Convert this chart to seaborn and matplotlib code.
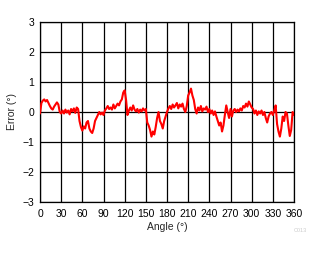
import numpy as np
import pandas as pd
import matplotlib
matplotlib.use("Agg")
import matplotlib.pyplot as plt
import seaborn as sns

# Angle samples (degrees) and measured error (degrees)
angle_deg = list(range(0, 361, 2))
error_deg = [
    -0.05, 0.30, 0.38, 0.42, 0.35, 0.40, 0.30, 0.20, 0.12, 0.08,
    0.18, 0.25, 0.32, 0.25, 0.00, -0.05, 0.05, -0.05, 0.08, -0.02,
    0.05, -0.08, 0.10, 0.02, 0.12, -0.03, 0.15, 0.10, -0.30, -0.50,
    -0.62, -0.48, -0.55, -0.35, -0.30, -0.55, -0.65, -0.70, -0.55, -0.30,
    -0.20, -0.10, 0.00, -0.08, -0.02, -0.10, 0.05, 0.12, 0.20, 0.10,
    0.15, 0.08, 0.25, 0.12, 0.20, 0.28, 0.22, 0.35, 0.42, 0.65,
    0.72, 0.40, -0.10, 0.05, 0.15, 0.05, 0.22, 0.08, 0.02, 0.10,
    -0.02, 0.08, 0.02, 0.12, 0.05, 0.10, -0.35, -0.45, -0.60, -0.82,
    -0.65, -0.75, -0.50, -0.20, 0.00, -0.30, -0.40, -0.55, -0.30, -0.15,
    0.00, 0.12, 0.20, 0.10, 0.25, 0.15, 0.22, 0.30, 0.12, 0.25,
    0.18, 0.28, 0.10, 0.00, 0.20, 0.55, 0.65, 0.78, 0.55, 0.40,
    0.10, -0.05, 0.15, 0.05, 0.20, 0.02, 0.12, 0.08, 0.18, 0.00,
    0.10, -0.05, 0.05, -0.10, 0.02, -0.15, -0.30, -0.45, -0.35, -0.65,
    -0.45, -0.10, 0.22, 0.00, -0.20, 0.10, -0.15, 0.05, 0.10, 0.00,
    0.08, 0.02, 0.12, 0.05, 0.20, 0.15, 0.28, 0.18, 0.35, 0.25,
    0.15, 0.10, -0.05, 0.05, -0.10, 0.02, -0.05, 0.05, -0.10, 0.00,
    -0.20, -0.35, -0.15, -0.05, 0.00, -0.10, 0.05, 0.22, -0.40, -0.65,
    -0.82, -0.55, -0.15, -0.30, 0.00, -0.05, -0.45, -0.80, -0.60, 0.00,
    -0.10,
]
x_ticks = list(range(0, 361, 30))
y_ticks = [-3, -2, -1, 0, 1, 2, 3]

df = pd.DataFrame({"Angle": angle_deg, "Error": error_deg})

sns.set_style("white")
plt.rcParams['font.family'] = ['Liberation Sans', 'DejaVu Sans']

fig = plt.figure(figsize=(3.27, 2.54), dpi=100)
ax = fig.add_axes([40/327, 52/254, 254/327, 180/254])

sns.lineplot(data=df, x="Angle", y="Error", ax=ax, color="#ff0000",
             linewidth=1.5, zorder=3)

ax.set_xlim(0, 360)
ax.set_ylim(-3, 3)
ax.set_xticks(x_ticks)
ax.set_yticks(y_ticks)
ax.tick_params(axis="both", length=0, labelsize=7.5, colors="black")
ax.tick_params(axis="x", pad=5)
ax.tick_params(axis="y", pad=4)
ax.grid(True, color="black", linewidth=0.9)
for s in ax.spines.values():
    s.set_color("black")
    s.set_linewidth(0.9)
ax.set_xlabel("Angle (°)", fontsize=7.5, labelpad=2)
ax.set_ylabel("Error (°)", fontsize=7.5, labelpad=4)

fig.text(300/327, 1 - 231/254, "C013", fontsize=4, color="#cccccc",
         ha="center", va="center")

fig.savefig("out.png", dpi=100)
